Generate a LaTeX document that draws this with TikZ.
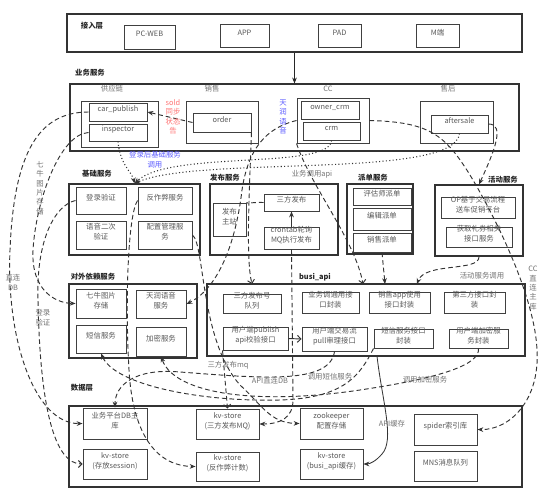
\documentclass[tikz,border=0pt]{standalone}
\usepackage{fontspec}
\setmainfont{Noto Sans CJK SC}
\usetikzlibrary{arrows.meta,fit}
\newcommand{\fs}{\fontsize{6.3}{8.5}\selectfont}
\tikzset{
  box/.style={draw=black!75,line width=0.8pt,inner sep=0pt,align=center,text=black!65,font=\fs},
  frame/.style={draw=black!80,line width=1pt,inner sep=0pt},
  layer/.style={text=black!85,font=\fs\bfseries},
  note/.style={text=black!55,font=\fs,align=center},
  vnote/.style={note,font=\fontsize{6.3}{8}\selectfont},
  dline/.style={draw=black!80,line width=0.8pt,dash pattern=on 4pt off 2.5pt},
  dotline/.style={draw=black!80,line width=0.9pt,dotted},
  tip/.style={-{Stealth[length=5pt,width=4pt]}},
  otip/.style={-{Straight Barb[length=3pt,width=6pt]}},
}
\begin{document}
\begin{tikzpicture}[x=0.03cm,y=-0.03cm]
\useasboundingbox (0,0) rectangle (546,495);
% 接入层
\node[frame,fit={(67,14) (522,52)}] (acc) {};
\node[layer] (accl) at (92,26) {接入层};
\node[box,fit={(124,25) (175,49)}] (pcweb) {PC-WEB};
\node[box,fit={(220,24) (269,47)}] (app) {APP};
\node[box,fit={(318,24) (361,47)}] (pad) {PAD};
\node[box,fit={(416,24) (459,47)}] (mend) {M端};
% 业务服务
\node[layer] (bizl) at (90,73) {业务服务};
\node[frame,fit={(70,84) (519,151)}] (biz) {};
\node[note] (supl) at (112,89) {供应链};
\node[box,fit={(81,101) (158,147)}] (supply) {};
\node[box,fit={(89,103) (147,121)}] (carpub) {car\_publish};
\node[box,fit={(89,124) (147,141)}] (insp) {inspector};
\node[note] (salesl) at (212,89) {销售};
\node[box,fit={(186,101) (258,143)}] (sales) {};
\node[box,fit={(193,113) (251,132)}] (order) {order};
\node[note] (ccl) at (328,89) {CC};
\node[box,fit={(297,98) (369,143)}] (ccsub) {};
\node[box,fit={(301,101) (359,119)}] (owner) {owner\_crm};
\node[box,fit={(303,122) (360,140)}] (crm) {crm};
\node[note] (afterl) at (448,89) {售后};
\node[box,fit={(420,101) (493,143)}] (after) {};
\node[box,fit={(431,115) (488,133)}] (aftersale) {aftersale};
% 基础服务
\node[layer] (basel) at (97,174) {基础服务};
\node[frame,fit={(69,184) (200,255)}] (base) {};
\node[box,fit={(76,187) (126,214)}] (login) {登录验证};
\node[box,fit={(138,187) (192,214)}] (antispam) {反作弊服务};
\node[box,fit={(76,221) (126,249)}] (voice) {语音二次\\验证};
\node[box,fit={(138,221) (192,249)}] (config) {配置管理服\\务};
% 发布服务
\node[layer] (publ) at (225,178) {发布服务};
\node[frame,fit={(210,184) (338,255)}] (pub) {};
\node[box,fit={(213,203) (246,236)}] (pubmain) {发布\\主站};
\node[box,fit={(264,194) (319,211)}] (pub3) {三方发布};
\node[box,fit={(264,227) (319,249)}] (crontab) {crontab轮询\\MQ执行发布};
% 派单服务
\node[layer] (displ) at (373,178) {派单服务};
\node[frame,fit={(347,184) (413,254)}] (disp) {};
\node[box,fit={(353,188) (411,205)}] (dispeval) {评估师派单};
\node[box,fit={(353,208) (411,230)}] (dispedit) {编辑派单};
\node[box,fit={(353,233) (411,252)}] (dispsales) {销售派单};
% 活动服务
\node[layer] (actl) at (503,180) {活动服务};
\node[frame,fit={(435,185) (523,256)}] (act) {};
\node[box,fit={(441,197) (515,218)}] (actop) {OP基于交易流程\\送车促销平台};
\node[box,fit={(446,227) (512,247)}] (actgift) {获取礼券相关\\接口服务};
% 对外依赖服务
\node[layer] (extl) at (93,277) {对外依赖服务};
\node[frame,fit={(69,284) (197,358)}] (ext) {};
\node[box,fit={(76,289) (126,318)}] (qiniu) {七牛图片\\存储};
\node[box,fit={(136,290) (186,318)}] (tianrun) {天润语音\\服务};
\node[box,fit={(76,325) (126,353)}] (sms) {短信服务};
\node[box,fit={(136,327) (186,356)}] (enc) {加密服务};
% busi_api
\node[layer] (busil) at (315,277) {busi\_api};
\node[frame,fit={(207,284) (525,356)}] (busi) {};
\node[box,fit={(223,294) (281,313)}] (queue) {三方发布号\\队列};
\node[box,fit={(302,292) (359,313)}] (bizapi) {业务调通用接\\口封装};
\node[box,fit={(369,292) (430,313)}] (salesapi) {销售app使用\\接口封装};
\node[box,fit={(444,292) (505,313)}] (thirdapi) {第三方接口封\\装};
\node[box,fit={(223,327) (288,350)}] (pubapi) {用户端publish\\api校验接口};
\node[box,fit={(302,327) (367,351)}] (pullapi) {用户端交易流\\pull审理接口};
\node[box,fit={(374,329) (433,348)}] (smsapi) {短信服务接口\\封装};
\node[box,fit={(449,329) (508,348)}] (encapi) {用户端加密服\\务封装};
% 数据层
\node[layer] (datal) at (82,388) {数据层};
\node[frame,fit={(69,406) (522,487)}] (data) {};
\node[box,fit={(83,408) (147,439)}] (db) {业务平台DB主\\库};
\node[box,fit={(83,449) (147,479)}] (session) {kv-store\\(存放session)};
\node[box,fit={(196,409) (259,439)}] (mqkv) {kv-store\\(三方发布MQ)};
\node[box,fit={(196,452) (259,481)}] (antikv) {kv-store\\(反作弊计数)};
\node[box,fit={(300,408) (363,439)}] (zk) {zookeeper\\配置存储};
\node[box,fit={(300,449) (363,479)}] (apikv) {kv-store\\(busi\_api缓存)};
\node[box,fit={(414,414) (477,445)}] (spider) {spider索引库};
\node[box,fit={(414,451) (477,481)}] (mns) {MNS消息队列};
% free ends on busi_api
\coordinate (inqueue) at (252,284);
\coordinate (inapi) at (363,284);
\coordinate (indisp) at (385,284);
\coordinate (inact) at (417,284);
\coordinate (outcache) at (377,356);
% connectors
\draw[tip,draw=black!85,line width=1pt] (acc.south) -- (biz.north);
\draw[dline,tip] (order.west) -- (carpub.east);
\draw[dline,tip] (carpub.west) .. controls (40,112) and (14,150) .. (10,250) .. controls (6,340) and (35,424) .. (db.west);
\draw[dline,tip] (insp.west) .. controls (60,134) and (36,200) .. (33,250) .. controls (31,290) and (55,303) .. (qiniu.west);
\draw[dline,otip] (login.west) .. controls (55,205) and (36,240) .. (38,300) .. controls (40,410) and (55,464) .. (session.west);
\draw[dotline,tip] (insp.south) .. controls (120,165) and (132,172) .. (base.north);
\draw[dotline,tip] (crm.south) .. controls (330,170) and (170,150) .. (base.north);
\draw[dotline,tip] (aftersale.south) .. controls (455,180) and (200,155) .. (base.north);
\draw[dline,tip] (ccsub.east) .. controls (430,122) and (445,135) .. (470,175) .. controls (500,225) and (535,300) .. (537,350) .. controls (540,400) and (510,430) .. (spider.east);
\draw[dline,tip] (ccsub.west) .. controls (265,128) and (248,150) .. (242,190) .. controls (235,250) and (215,290) .. (tianrun.east);
\draw[dline,tip] (aftersale.east) .. controls (505,124) and (495,150) .. (act.north);
\draw[dline] (pub3.west) .. controls (252,202) and (248,204) .. (pubmain.north east);
\draw[tip,draw=black!80,line width=0.8pt] (crontab.north) -- (pub3.south);
\draw[dline,tip] (act.south) .. controls (480,272) and (425,262) .. (inact);
\draw[dline,tip] (dispsales.south) -- (indisp);
\draw[dline,otip] (ccsub.south west) .. controls (310,185) and (355,240) .. (inapi);
\draw[dline,otip] (order.south east) .. controls (249,200) and (246,260) .. (inqueue);
\draw[otip,draw=black!80,line width=0.8pt] (pubapi.east) -- (pullapi.west);
\draw[dline,otip] (pubapi.south west) -- (mqkv.north);
\draw[dline,tip] (crontab.south) -- (293,400) .. controls (293,418) and (280,424) .. (mqkv.east);
\draw[dline,tip] (antispam.west) .. controls (128,215) and (125,300) .. (129,370) .. controls (133,440) and (160,466) .. (antikv.west);
\draw[dline,tip] (config.east) .. controls (205,245) and (200,340) .. (240,385) .. controls (262,405) and (270,423) .. (zk.west);
\draw[dline,tip] (pullapi.south) .. controls (330,385) and (260,378) .. (180,372) .. controls (135,368) and (115,385) .. (db.north);
\draw[dline,tip] (smsapi.south west) .. controls (360,375) and (345,398) .. (280,400) .. controls (200,402) and (115,385) .. (sms.south);
\draw[dline,tip] (encapi.south) .. controls (480,365) and (440,378) .. (360,390) .. controls (260,405) and (175,395) .. (enc.south);
\draw[tip,draw=black!80,line width=0.7pt] (outcache) .. controls (382,400) and (395,440) .. (382,454) .. controls (376,461) and (370,464) .. (apikv.east);
% labels on connectors
\node[note] (l1) at (13,282) {直连\\DB};
\node[vnote] (l2) at (40,188) {七\\牛\\图\\片\\存\\储};
\node[note] (l3) at (43,318) {登录\\验证};
\node[note,text=blue!65] (l4) at (155,160) {登录后基础服务\\调用};
\node[vnote,text=red!55] (l5) at (173,117) {sold\\同步\\状态\\告};
\node[vnote,text=blue!65] (l6) at (283,117) {天\\润\\语\\音};
\node[note] (l7) at (312,174) {业务调用api};
\node[note] (l8) at (482,276) {活动服务调用};
\node[vnote] (l9) at (533,288) {CC\\直\\连\\主\\库};
\node[note] (l10) at (228,365) {三方发布mq};
\node[note] (l11) at (270,381) {API直连DB};
\node[note] (l12) at (330,377) {调用短信服务};
\node[note] (l13) at (425,380) {调用加密服务};
\node[note] (l14) at (392,424) {API缓存};
\end{tikzpicture}
\end{document}
